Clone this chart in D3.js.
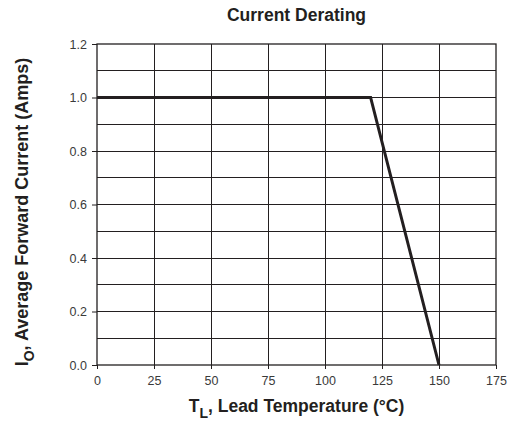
<!DOCTYPE html>
<html>
<head>
<meta charset="utf-8">
<script src="https://cdn.jsdelivr.net/npm/d3@7"></script>
<style>
  html, body { margin: 0; padding: 0; background: #fff; }
  svg { display: block; font-family: "Liberation Sans", Arial, sans-serif; }
</style>
</head>
<body>
<svg id="chart" width="511" height="424"></svg>
<script>
// Derating curve: lead temperature (°C) vs. average forward current (A)
const tempC = [0, 120, 150];
const currentA = [1.0, 1.0, 0.0];

const xTicks = [0, 25, 50, 75, 100, 125, 150, 175];
const yTicks = [0.0, 0.2, 0.4, 0.6, 0.8, 1.0, 1.2];
const yGrid = [0.1, 0.2, 0.3, 0.4, 0.5, 0.6, 0.7, 0.8, 0.9, 1.0, 1.1];

const margin = { left: 97, top: 44, right: 15, bottom: 59 };
const W = 511, H = 424;
const svg = d3.select("#chart");

const x = d3.scaleLinear().domain([0, 175]).range([margin.left, W - margin.right]);
const y = d3.scaleLinear().domain([0, 1.2]).range([H - margin.bottom, margin.top]);

const ink = "#231f20";

// grid
svg.append("g").selectAll("line").data(yGrid).join("line")
  .attr("x1", x(0)).attr("x2", x(175))
  .attr("y1", d => y(d)).attr("y2", d => y(d))
  .attr("stroke", ink).attr("stroke-width", 1).attr("shape-rendering", "crispEdges");
svg.append("g").selectAll("line").data(xTicks.slice(1, -1)).join("line")
  .attr("x1", d => x(d)).attr("x2", d => x(d))
  .attr("y1", y(0)).attr("y2", y(1.2))
  .attr("stroke", ink).attr("stroke-width", 1).attr("shape-rendering", "crispEdges");

// frame
svg.append("rect")
  .attr("x", x(0)).attr("y", y(1.2))
  .attr("width", x(175) - x(0)).attr("height", y(0) - y(1.2))
  .attr("fill", "none").attr("stroke", ink).attr("stroke-width", 1.3);

// axes
const xAxis = svg.append("g").attr("transform", `translate(0,${y(0)})`)
  .call(d3.axisBottom(x).tickValues(xTicks).tickSize(4).tickPadding(7).tickFormat(d3.format("d")));
const yAxis = svg.append("g").attr("transform", `translate(${x(0)},0)`)
  .call(d3.axisLeft(y).tickValues(yTicks).tickSize(5).tickPadding(5).tickFormat(d3.format(".1f")));
[xAxis, yAxis].forEach(g => {
  g.select(".domain").remove();
  g.selectAll(".tick line").attr("stroke", ink);
  g.selectAll(".tick text").attr("fill", "#3a3a3a").style("font-size", "12.5px")
    .style("font-family", "'Liberation Sans', Arial, sans-serif");
});

// derating line
svg.append("path")
  .datum(tempC.map((t, i) => [t, currentA[i]]))
  .attr("d", d3.line().x(d => x(d[0])).y(d => y(d[1])))
  .attr("fill", "none").attr("stroke", ink).attr("stroke-width", 3)
  .attr("stroke-linejoin", "miter");

// titles
const cx = (x(0) + x(175)) / 2;
svg.append("text").attr("x", cx).attr("y", 21)
  .attr("text-anchor", "middle").attr("font-weight", "bold")
  .attr("font-size", 17.5).attr("fill", ink).text("Current Derating");

const xl = svg.append("text").attr("x", cx).attr("y", 411.5)
  .attr("text-anchor", "middle").attr("font-weight", "bold")
  .attr("font-size", 17.5).attr("fill", ink);
xl.append("tspan").text("T");
xl.append("tspan").attr("dy", 6).attr("font-size", 14).text("L");
xl.append("tspan").attr("dy", -6).text(", Lead Temperature (°C)");

const yl = svg.append("text")
  .attr("transform", `translate(28,212) rotate(-90)`)
  .attr("text-anchor", "middle").attr("font-weight", "bold")
  .attr("font-size", 18).attr("fill", ink);
yl.append("tspan").text("I");
yl.append("tspan").attr("dy", 6).attr("font-size", 14).text("O");
yl.append("tspan").attr("dy", -6).text(", Average Forward Current (Amps)");
</script>
</body>
</html>
